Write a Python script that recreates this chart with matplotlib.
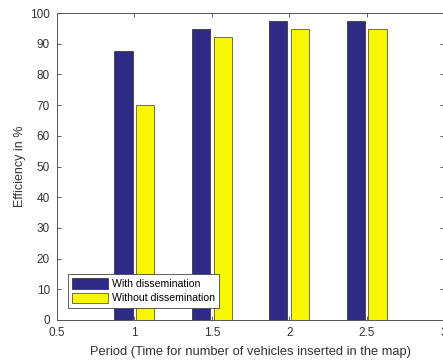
import numpy as np
import matplotlib
matplotlib.use("Agg")
import matplotlib.pyplot as plt

# efficiency per insertion period
periods = [1.0, 1.5, 2.0, 2.5]
with_dissem = [87.5, 94.8, 97.5, 97.5]
without_dissem = [70.0, 92.3, 94.8, 94.8]

plt.rcParams['font.family'] = 'Liberation Sans'

fig = plt.figure(figsize=(4.43, 3.62), dpi=100)
ax = fig.add_axes([57 / 443, 42 / 362, 387 / 443, 307 / 362])

x = np.array(periods)
w = 0.118
ax.bar(x - 0.07, with_dissem, w, color='#2f2a86', edgecolor='#3a3a3a',
       linewidth=0.6, label='With dissemination')
ax.bar(x + 0.07, without_dissem, w, color='#f7f700', edgecolor='#5a5a3a',
       linewidth=0.6, label='Without dissemination')

ax.set_xlim(0.5, 3)
ax.set_ylim(0, 100)
ax.set_xticks([0.5, 1, 1.5, 2, 2.5, 3])
ax.set_xticklabels(['0.5', '1', '1.5', '2', '2.5', '3'])
ax.set_yticks(range(0, 101, 10))

ax.tick_params(direction='in', top=True, right=True, length=3, width=0.6,
               labelsize=8.5, colors='#444444', labelcolor='#333333', pad=5)
for s in ax.spines.values():
    s.set_color('#555555')
    s.set_linewidth(0.7)

ax.set_xlabel('Period (Time for number of vehicles inserted in the map)',
              fontsize=9.3, color='#333333', labelpad=5)
ax.set_ylabel('Efficiency in %', fontsize=9, color='#333333', labelpad=3)

leg = ax.legend(loc='lower left', bbox_to_anchor=(0.028, 0.04), fontsize=7.6,
                handlelength=3.4, handleheight=1.2, handletextpad=0.4,
                borderpad=0.4, labelspacing=0.3, fancybox=False,
                framealpha=1, borderaxespad=0)
leg.get_frame().set_edgecolor('#444444')
leg.get_frame().set_linewidth(0.6)

fig.savefig('out.png', dpi=100)
